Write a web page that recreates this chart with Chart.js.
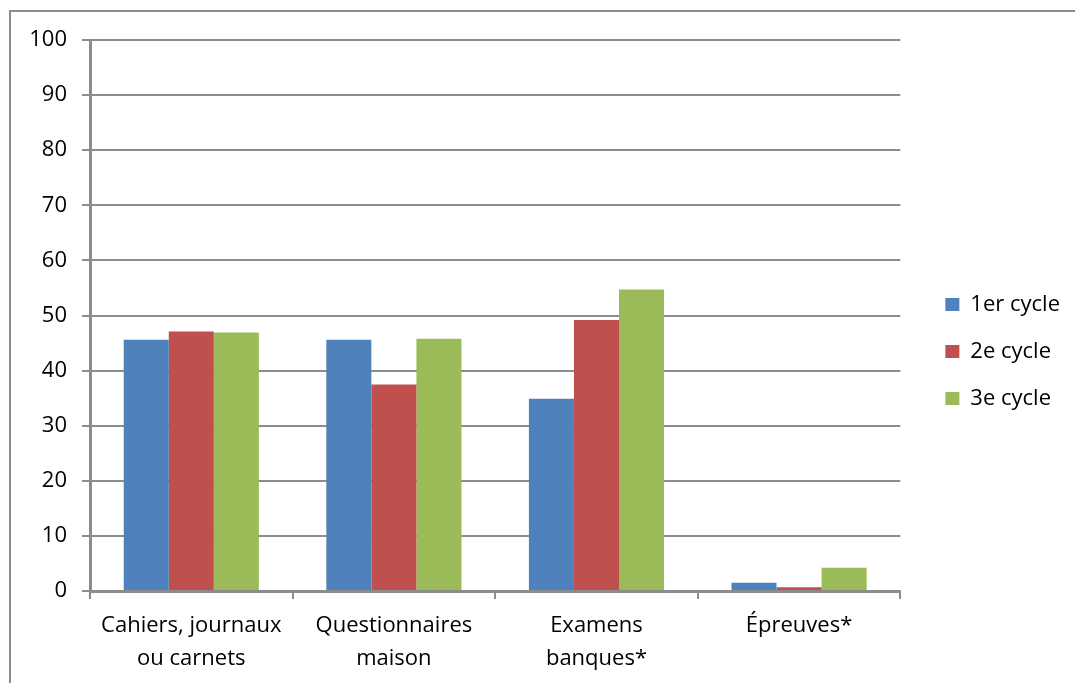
<!DOCTYPE html>
<html>
<head>
<meta charset="utf-8">
<script src="https://cdn.jsdelivr.net/npm/chart.js@4/dist/chart.umd.min.js"></script>
<style>
  body { margin: 0; background: #fff; }
  #box { position: absolute; left: 9px; top: 10px; width: 1080px; height: 690px; border: 2px solid #8c8c8c; box-sizing: border-box; }
  #wrap { position: absolute; left: 0; top: 0; width: 1064px; height: 671px; }
</style>
</head>
<body>
<div id="box"><div id="wrap"><canvas id="myChart"></canvas></div></div>
<script>
var categories = [['Cahiers, journaux', 'ou carnets'], ['Questionnaires', 'maison'], ['Examens', 'banques*'], ['Épreuves*']];
var cycle1 = [45.6, 45.6, 34.9, 1.5];
var cycle2 = [47.1, 37.5, 49.2, 0.7];
var cycle3 = [46.9, 45.8, 54.7, 4.2];
var seriesNames = ['1er cycle', '2e cycle', '3e cycle'];
var yTicks = [0, 10, 20, 30, 40, 50, 60, 70, 80, 90, 100];

var fontFamily = "'Open Sans', 'Liberation Sans', sans-serif";
var ctx = document.getElementById('myChart').getContext('2d');
const myChart = new Chart(ctx, {
    type: 'bar',
    data: {
        labels: categories,
        datasets: [{
            label: seriesNames[0],
            data: cycle1,
            backgroundColor: '#4f81bd'
        },
        {
            label: seriesNames[1],
            data: cycle2,
            backgroundColor: '#c0504d'
        },
        {
            label: seriesNames[2],
            data: cycle3,
            backgroundColor: '#9bbb59'
        }]
    },
    options: {
        responsive: true,
        maintainAspectRatio: false,
        animation: false,
        layout: { padding: { left: 0, top: 8, right: 5, bottom: 0 } },
        datasets: { bar: { categoryPercentage: 0.667, barPercentage: 1.0 } },
        plugins: {
            tooltip: { enabled: false },
            legend: {
                position: 'right',
                labels: {
                    color: '#000',
                    font: { family: fontFamily, size: 22 },
                    boxWidth: 14,
                    boxHeight: 13,
                    padding: 25
                }
            }
        },
        scales: {
            x: {
                afterFit: function (scale) { scale.height = 92; },
                grid: {
                    display: true,
                    drawOnChartArea: false,
                    drawTicks: true,
                    tickLength: 8,
                    offset: true,
                    color: '#8c8c8c',
                    lineWidth: 2
                },
                border: { color: '#8c8c8c', width: 3 },
                ticks: {
                    color: '#000',
                    font: { family: fontFamily, size: 22, lineHeight: 1.5 },
                    maxRotation: 0,
                    padding: 10
                }
            },
            y: {
                min: 0,
                max: 100,
                afterFit: function (scale) { scale.width = 79; scale.paddingTop = 28; },
                afterBuildTicks: function (axis) {
                    axis.ticks = yTicks.map(function (v) { return { value: v }; });
                },
                grid: {
                    color: '#8c8c8c',
                    lineWidth: 2,
                    tickLength: 8
                },
                border: { color: '#8c8c8c', width: 3 },
                ticks: {
                    color: '#000',
                    font: { family: fontFamily, size: 22 },
                    padding: 15
                }
            },
            gap: {
                type: 'linear',
                position: 'right',
                min: 0,
                max: 100,
                afterFit: function (scale) { scale.width = 20; },
                grid: { display: false, drawTicks: false },
                border: { display: false },
                ticks: { display: false }
            }
        }
    }
});
</script>
</body>
</html>
